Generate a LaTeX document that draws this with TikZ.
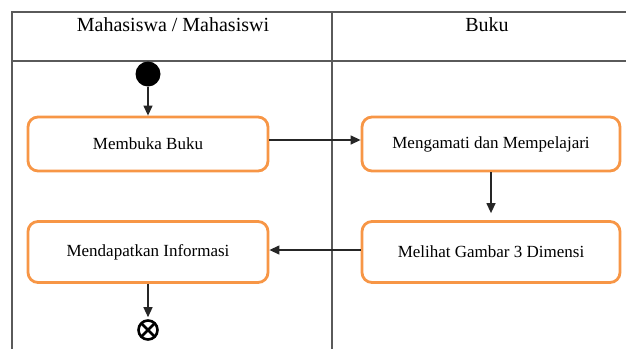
\documentclass[tikz,border=0pt]{standalone}
\usepackage{fontspec}
\setmainfont{Liberation Serif}
\usetikzlibrary{arrows.meta}
\definecolor{boxorange}{HTML}{F79646}
\definecolor{lanegray}{HTML}{5A5A5A}
\begin{document}
\begin{tikzpicture}[x=1pt,y=-1pt,
  lane/.style={draw=lanegray,line width=1.5pt},
  actbox/.style={draw=boxorange,line width=2.8pt,rounded corners=10pt,fill=white,
    minimum width=240pt,inner sep=0pt,font=\fontsize{17}{20}\selectfont},
  flow/.style={draw=black!85,line width=1.3pt,-{Triangle[length=10pt,width=9pt]}},
  hdr/.style={font=\fontsize{20}{24}\selectfont,anchor=base}]
\useasboundingbox (0,0) rectangle (626,349);
% swimlane frame
\coordinate (tl) at (12,12);
\coordinate (tr) at (626,12);
\coordinate (hl) at (12,61);
\coordinate (hr) at (626,61);
\coordinate (bl) at (12,349);
\coordinate (dt) at (332,12);
\coordinate (db) at (332,349);
\draw[lane] (tr) -- (tl) -- (bl);
\draw[lane] (hl) -- (hr);
\draw[lane] (dt) -- (db);
\node[hdr] (h1) at (173,31) {Mahasiswa / Mahasiswi};
\node[hdr] (h2) at (487,31) {Buku};
% nodes
\node[circle,fill=black,minimum size=25pt,inner sep=0pt] (start) at (148,74) {};
\node[actbox,minimum width=240pt,minimum height=54pt] (mb) at (148,144) {Membuka Buku};
\node[actbox,minimum width=258pt,minimum height=54pt] (mg) at (491,144) {Mengamati dan Mempelajari};
\node[actbox,minimum width=258pt,minimum height=61pt] (ml) at (491,252) {Melihat Gambar 3 Dimensi};
\node[actbox,minimum width=240pt,minimum height=61pt] (md) at (148,252) {Mendapatkan Informasi};
\node[circle,draw=black,line width=2.6pt,minimum size=19pt,inner sep=0pt,
  path picture={\draw[line width=2.6pt] (path picture bounding box.north west) -- (path picture bounding box.south east)
  (path picture bounding box.north east) -- (path picture bounding box.south west);}] (end) at (148,330) {};
% connectors
\draw[flow] (start) -- (mb);
\draw[flow] ([yshift=4pt]mb.east) -- ([yshift=4pt]mg.west);
\draw[flow,shorten >=7pt] (mg) -- (ml);
\draw[flow] ([yshift=2pt]ml.west) -- ([yshift=2pt]md.east);
\draw[flow,shorten >=2pt] (md) -- (end);
\end{tikzpicture}
\end{document}
